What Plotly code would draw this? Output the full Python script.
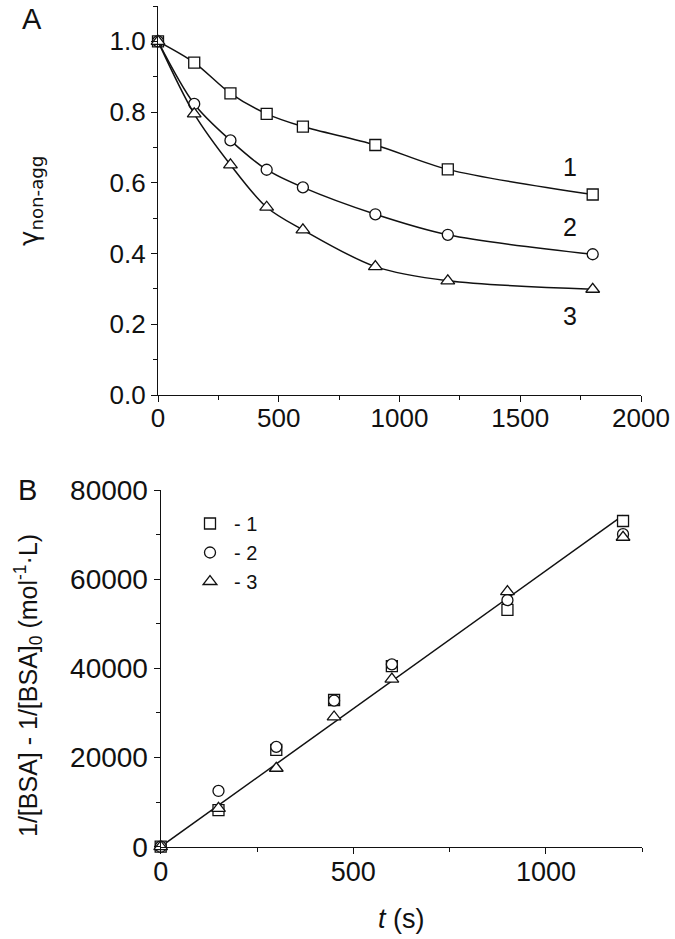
import plotly.graph_objects as go

# ---------- Panel A data ----------
t_a = [0, 150, 300, 450, 600, 900, 1200, 1800]
gamma_1 = [1.0, 0.940, 0.853, 0.795, 0.759, 0.707, 0.638, 0.567]
gamma_2 = [1.0, 0.823, 0.720, 0.637, 0.587, 0.511, 0.453, 0.398]
gamma_3 = [1.0, 0.795, 0.651, 0.531, 0.467, 0.363, 0.323, 0.299]
curve_labels = ["1", "2", "3"]
label_x = [1707, 1707, 1707]
label_y = [0.646, 0.476, 0.222]

# ---------- Panel B data ----------
t_b = [0, 150, 300, 450, 600, 900, 1200]
inv_1 = [0, 8200, 21700, 32900, 40500, 53100, 73050]
inv_2 = [0, 12500, 22400, 32750, 40900, 55300, 70100]
inv_3 = [0, 8600, 17600, 29100, 37600, 57200, 69400]
fit_t = [0, 1200]
fit_y = [0, 74300]
legend_names = ["- 1", "- 2", "- 3"]

symbols = ["square", "circle", "triangle-up"]
INK = "#111111"
FONT = "Liberation Sans, Arial, sans-serif"

W, H = 675, 939
fig = go.Figure()

# Panel A traces
for ys, sym in zip([gamma_1, gamma_2, gamma_3], symbols):
    fig.add_trace(go.Scatter(
        x=t_a, y=ys, mode="lines+markers", xaxis="x", yaxis="y",
        line=dict(color=INK, width=1.5, shape="spline", smoothing=0.9),
        marker=dict(symbol=sym, size=11 if sym != "triangle-up" else 12,
                    color="white", line=dict(color=INK, width=1.3)),
        showlegend=False, cliponaxis=False))

# Panel B fit line
fig.add_trace(go.Scatter(
    x=fit_t, y=fit_y, mode="lines", xaxis="x2", yaxis="y2",
    line=dict(color=INK, width=1.5), showlegend=False, cliponaxis=False))

# Panel B points
for ys, sym, nm in zip([inv_1, inv_2, inv_3], symbols, legend_names):
    fig.add_trace(go.Scatter(
        x=t_b, y=ys, mode="markers", xaxis="x2", yaxis="y2", name=nm,
        marker=dict(symbol=sym, size=11 if sym != "triangle-up" else 12,
                    color="white", line=dict(color=INK, width=1.3)),
        cliponaxis=False))

def axis_common(size):
    return dict(
        showline=True, linecolor=INK, linewidth=1.3, ticks="outside",
        ticklen=6, tickwidth=1.3, tickcolor=INK, showgrid=False,
        zeroline=False, automargin=False,
        tickfont=dict(family=FONT, size=size, color=INK),
    )

def minor(d):
    return dict(dtick=d, ticks="outside", ticklen=4, tickcolor=INK,
                tickwidth=1.3, showgrid=False)

fig.update_layout(
    template="none",
    width=W, height=H,
    margin=dict(l=0, r=0, t=0, b=0, pad=0, autoexpand=False),
    paper_bgcolor="white", plot_bgcolor="white",
    font=dict(family=FONT, color=INK),
    xaxis=dict(domain=[158 / W, 641 / W], range=[0, 2000], dtick=500,
               anchor="y", minor=minor(250), ticklabelstandoff=-6,
               **axis_common(26)),
    yaxis=dict(domain=[1 - 395 / H, 1 - 6 / H], range=[0, 1.1], dtick=0.2,
               tickformat=".1f", anchor="x", minor=minor(0.1),
               **axis_common(26)),
    xaxis2=dict(domain=[160.7 / W, 642.3 / W], range=[0, 1250], dtick=500,
                anchor="y2", minor=minor(250), ticklabelstandoff=-5,
                **axis_common(27)),
    yaxis2=dict(domain=[1 - 846.7 / H, 1 - 490 / H], range=[0, 80000],
                dtick=20000, tickformat="d", anchor="x2", minor=minor(10000),
                **axis_common(28)),
    legend=dict(x=186 / W, y=1 - 504 / H, xanchor="left", yanchor="top",
                font=dict(family=FONT, size=20, color=INK),
                bgcolor="rgba(0,0,0,0)", itemwidth=38, tracegroupgap=0),
    showlegend=True,
)

annotations = []
for txt, lx, ly in zip(curve_labels, label_x, label_y):
    annotations.append(dict(x=lx, y=ly, xref="x", yref="y", text=txt,
                            showarrow=False, xanchor="center",
                            yanchor="middle",
                            font=dict(family=FONT, size=25, color=INK)))

def paper_text(px, py, txt, size, angle=0, family=FONT):
    return dict(x=px / W, y=1 - py / H, xref="paper", yref="paper",
                text=txt, textangle=angle, showarrow=False,
                xanchor="center", yanchor="middle",
                font=dict(family=family, size=size, color=INK))

annotations += [
    paper_text(32, 19, "A", 29),
    paper_text(27, 490, "B", 29),
    paper_text(30, 201, "γ<sub>non-agg</sub>", 26, -90,
               "DejaVu Sans, " + FONT),
    paper_text(28, 686,
               "1/[BSA] - 1/[BSA]<sub>0</sub> (mol<sup>-1</sup>·L)", 25, -90),
    paper_text(402, 919, "<i>t</i> (s)", 27),
]
fig.update_layout(annotations=annotations)

fig.write_html(
    "out.html",
    config={"displayModeBar": False},
    post_script="document.body.style.margin='0px';"
                "document.body.style.padding='0px';",
)
